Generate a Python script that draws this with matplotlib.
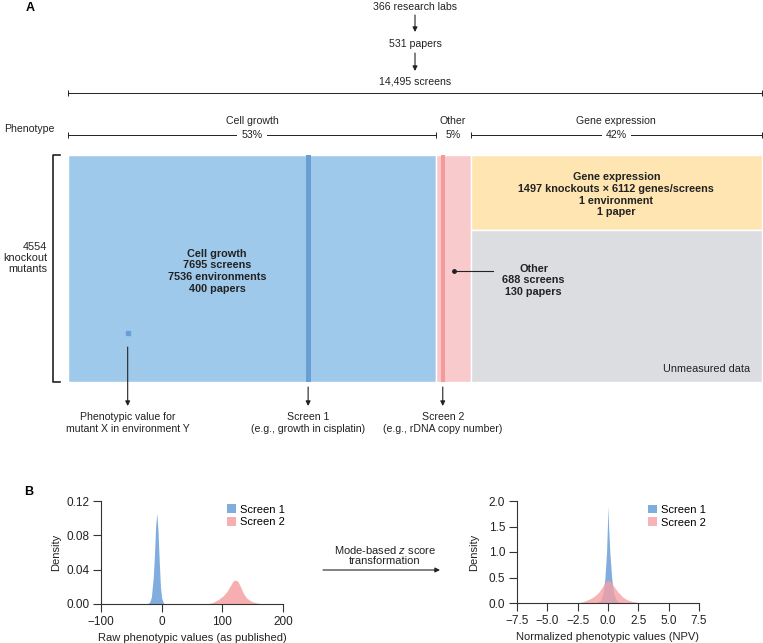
import matplotlib.pyplot as plt
from matplotlib.transforms import blended_transform_factory
import numpy as np

plt.rcParams['font.family'] = ['Liberation Sans', 'DejaVu Sans']
plt.rcParams['mathtext.fontset'] = 'custom'
plt.rcParams['mathtext.it'] = 'Liberation Sans:italic'

# ---- panel A data ----
phenotypes = ['Cell growth', 'Other', 'Gene expression']
shares = [53, 5, 42]              # % of screens
n_mutants = 4554
gene_knockouts = 1497
screen1_pos = 34.6                # % along screens axis
screen2_pos = 54.0
mutant_x_pos = 8.6
mutant_x_row = 3570

# ---- panel B data ----
raw1_x = [-24, -20, -17, -14, -12, -10, -8, -6, -4, -2, 0, 3, 6]
raw1_d = [0, 0.002, 0.008, 0.03, 0.055, 0.09, 0.106, 0.085, 0.05, 0.02, 0.007, 0.001, 0]
raw2_x = [75, 85, 95, 102, 108, 113, 118, 122, 126, 130, 135, 140, 148, 158, 170]
raw2_d = [0, 0.002, 0.006, 0.01, 0.015, 0.021, 0.027, 0.028, 0.026, 0.02, 0.012, 0.007, 0.003, 0.001, 0]
npv1_x = [-1.0, -0.6, -0.4, -0.25, -0.12, -0.05, 0.0, 0.05, 0.15, 0.3, 0.45, 0.7, 1.0]
npv1_d = [0, 0.05, 0.2, 0.5, 1.0, 1.5, 1.9, 1.5, 1.0, 0.5, 0.2, 0.05, 0]
npv2_x = [-2.5, -2.0, -1.5, -1.2, -0.8, -0.5, -0.2, 0, 0.2, 0.5, 0.8, 1.2, 1.6, 2.0, 2.5, 3.0]
npv2_d = [0, 0.03, 0.08, 0.12, 0.2, 0.3, 0.42, 0.45, 0.42, 0.32, 0.22, 0.12, 0.06, 0.03, 0.01, 0]

BLUE, BLUE_D = '#9fc9eb', '#6a9fd3'
PINK, PINK_D = '#f9cacb', '#f49a9d'
YELLOW, GRAY = '#fee5b1', '#dcdde0'
TXT = '#222222'

W, H = 763, 643
fig = plt.figure(figsize=(W / 100, H / 100), dpi=100)

# ---- block diagram ----
axA = fig.add_axes([68 / W, (H - 382) / H, 694 / W, 227 / H])
axA.set_xlim(0, 100)
axA.set_ylim(n_mutants, 0)
axA.axis('off')
lefts = np.concatenate([[0], np.cumsum(shares)[:-1]])
axA.bar(lefts[0], n_mutants, width=shares[0], align='edge', color=BLUE, ec='white', lw=1)
axA.bar(lefts[1], n_mutants, width=shares[1], align='edge', color=PINK, ec='white', lw=1)
axA.bar(lefts[2], gene_knockouts, width=shares[2], align='edge', color=YELLOW, ec='white', lw=1)
axA.bar(lefts[2], n_mutants - gene_knockouts, bottom=gene_knockouts, width=shares[2],
        align='edge', color=GRAY, ec='white', lw=1)
axA.bar(screen1_pos, n_mutants, width=0.7, color=BLUE_D)
axA.bar(screen2_pos, n_mutants, width=0.6, color=PINK_D)
axA.plot(mutant_x_pos, mutant_x_row, 's', color=BLUE_D, ms=3.5)

bold = dict(fontsize=7.8, fontweight='bold', color=TXT, ha='center', va='center', linespacing=1.2)
axA.text(21.5, 2330, 'Cell growth\n7695 screens\n7536 environments\n400 papers', **bold)
axA.text(79, 800, 'Gene expression\n1497 knockouts \u00d7 6112 genes/screens\n1 environment\n1 paper', **bold)
axA.text(67.1, 2510, 'Other\n688 screens\n130 papers', **bold)
axA.plot([55.6, 61.2], [2327, 2327], color=TXT, lw=0.8)
axA.plot(55.6, 2327, 'o', color=TXT, ms=2.5)
axA.text(98.3, 4290, 'Unmeasured data', fontsize=7.8, color=TXT, ha='right', va='center')

# ---- overlay for annotations (pixel coords, y from top) ----
ov = fig.add_axes([0, 0, 1, 1])
ov.set_xlim(0, W)
ov.set_ylim(H, 0)
ov.axis('off')
ov.patch.set_alpha(0)
bt = blended_transform_factory(axA.transData, ov.transData)
arr = dict(arrowstyle='-|>', color=TXT, lw=0.8, mutation_scale=7, shrinkA=0, shrinkB=0)
nt = dict(fontsize=7.6, color=TXT, ha='center', va='center')

ov.text(30, 8, 'A', fontsize=9, fontweight='bold', ha='center', va='center')
ov.text(50, 7, '366 research labs', transform=bt, **nt)
ov.annotate('', xy=(50, 32), xytext=(50, 15), xycoords=bt, textcoords=bt, arrowprops=arr)
ov.text(50, 44, '531 papers', transform=bt, **nt)
ov.annotate('', xy=(50, 71), xytext=(50, 53), xycoords=bt, textcoords=bt, arrowprops=arr)
ov.text(50, 82, '14,495 screens', transform=bt, **nt)
ov.plot([0, 100], [93, 93], transform=bt, color=TXT, lw=0.7, marker='|', ms=5, mew=0.7, clip_on=False)

ov.text(4, 129, 'Phenotype', fontsize=7.6, color=TXT, ha='left', va='center')
bounds = np.concatenate([[0], np.cumsum(shares)])
for i, (name, s) in enumerate(zip(phenotypes, shares)):
    a, b = bounds[i], bounds[i + 1]
    c = (a + b) / 2
    if s > 10:
        ov.plot([a, b], [135, 135], transform=bt, color=TXT, lw=0.7, marker='|', ms=5, mew=0.7, clip_on=False)
    ov.text(c, 121, name, transform=bt, **nt)
    ov.text(c, 135, f'{s}%', transform=bt, bbox=dict(fc='white', ec='none', pad=3), **nt)

ov.plot([60, 53, 53, 60], [155, 155, 382, 382], color=TXT, lw=1.2)
ov.text(47, 258, '4554\nknockout\nmutants', fontsize=7.8, color=TXT, ha='right', va='center',
        linespacing=1.15)

ov.annotate('', xy=(mutant_x_pos, 406), xytext=(mutant_x_pos, 347), xycoords=bt, textcoords=bt, arrowprops=arr)
ov.annotate('', xy=(screen1_pos, 406), xytext=(screen1_pos, 387), xycoords=bt, textcoords=bt, arrowprops=arr)
ov.annotate('', xy=(screen2_pos, 406), xytext=(screen2_pos, 387), xycoords=bt, textcoords=bt, arrowprops=arr)
ov.text(mutant_x_pos, 423, 'Phenotypic value for\nmutant X in environment Y', transform=bt, linespacing=1.2, **nt)
ov.text(screen1_pos, 423, 'Screen 1\n(e.g., growth in cisplatin)', transform=bt, linespacing=1.2, **nt)
ov.text(screen2_pos, 423, 'Screen 2\n(e.g., rDNA copy number)', transform=bt, linespacing=1.2, **nt)

# ---- panel B ----
ov.text(29, 492, 'B', fontsize=9, fontweight='bold', ha='center', va='center')
ov.annotate('', xy=(440, 570), xytext=(323, 570), arrowprops=arr)
ov.text(385, 555, 'Mode-based $z$ score\ntransformation', fontsize=8, color=TXT, ha='center', va='center',
        linespacing=1.0)

c1, c2 = '#6a9fd8', '#f5a0a4'


def style(ax, lx):
    for s in ['top', 'right']:
        ax.spines[s].set_visible(False)
    for s in ['left', 'bottom']:
        ax.spines[s].set_color('#333333')
        ax.spines[s].set_linewidth(0.8)
    ax.tick_params(length=5.5, width=0.8, color='#333333', labelsize=8.5, pad=3, labelcolor=TXT)
    ax.set_ylabel('Density', fontsize=8, color=TXT)
    ax.legend(loc='upper left', bbox_to_anchor=(lx, 1.02), frameon=False, fontsize=8,
              handlelength=0.8, handleheight=0.8, handletextpad=0.4, borderpad=0, labelspacing=0.25)
    ax.xaxis.set_label_coords(0.5, -0.28)


axL = fig.add_axes([101 / W, 39 / H, 182 / W, 103 / H])
axL.fill_between(raw1_x, raw1_d, color=c1, alpha=0.85, lw=0, label='Screen 1')
axL.fill_between(raw2_x, raw2_d, color=c2, alpha=0.85, lw=0, label='Screen 2')
axL.set_xlim(-100, 200)
axL.set_ylim(0, 0.12)
axL.set_xticks([-100, 0, 100, 200])
axL.set_yticks([0, 0.04, 0.08, 0.12])
axL.set_yticklabels([f'{v:.2f}' for v in [0, 0.04, 0.08, 0.12]])
axL.set_xlabel('Raw phenotypic values (as published)', fontsize=8, color=TXT)
style(axL, 0.66)
axL.yaxis.set_label_coords(-0.22, 0.5)

axR = fig.add_axes([517 / W, 40 / H, 182 / W, 102 / H])
axR.fill_between(npv1_x, npv1_d, color=c1, alpha=0.85, lw=0, label='Screen 1')
axR.fill_between(npv2_x, npv2_d, color=c2, alpha=0.8, lw=0, label='Screen 2')
axR.set_xlim(-7.5, 7.5)
axR.set_ylim(0, 2.0)
axR.set_xticks(np.arange(-7.5, 7.6, 2.5))
axR.set_yticks([0, 0.5, 1.0, 1.5, 2.0])
axR.set_yticklabels([f'{v:.1f}' for v in [0, 0.5, 1.0, 1.5, 2.0]])
axR.set_xlabel('Normalized phenotypic values (NPV)', fontsize=8, color=TXT)
style(axR, 0.69)
axR.yaxis.set_label_coords(-0.21, 0.5)

fig.savefig('out.png', dpi=100)
